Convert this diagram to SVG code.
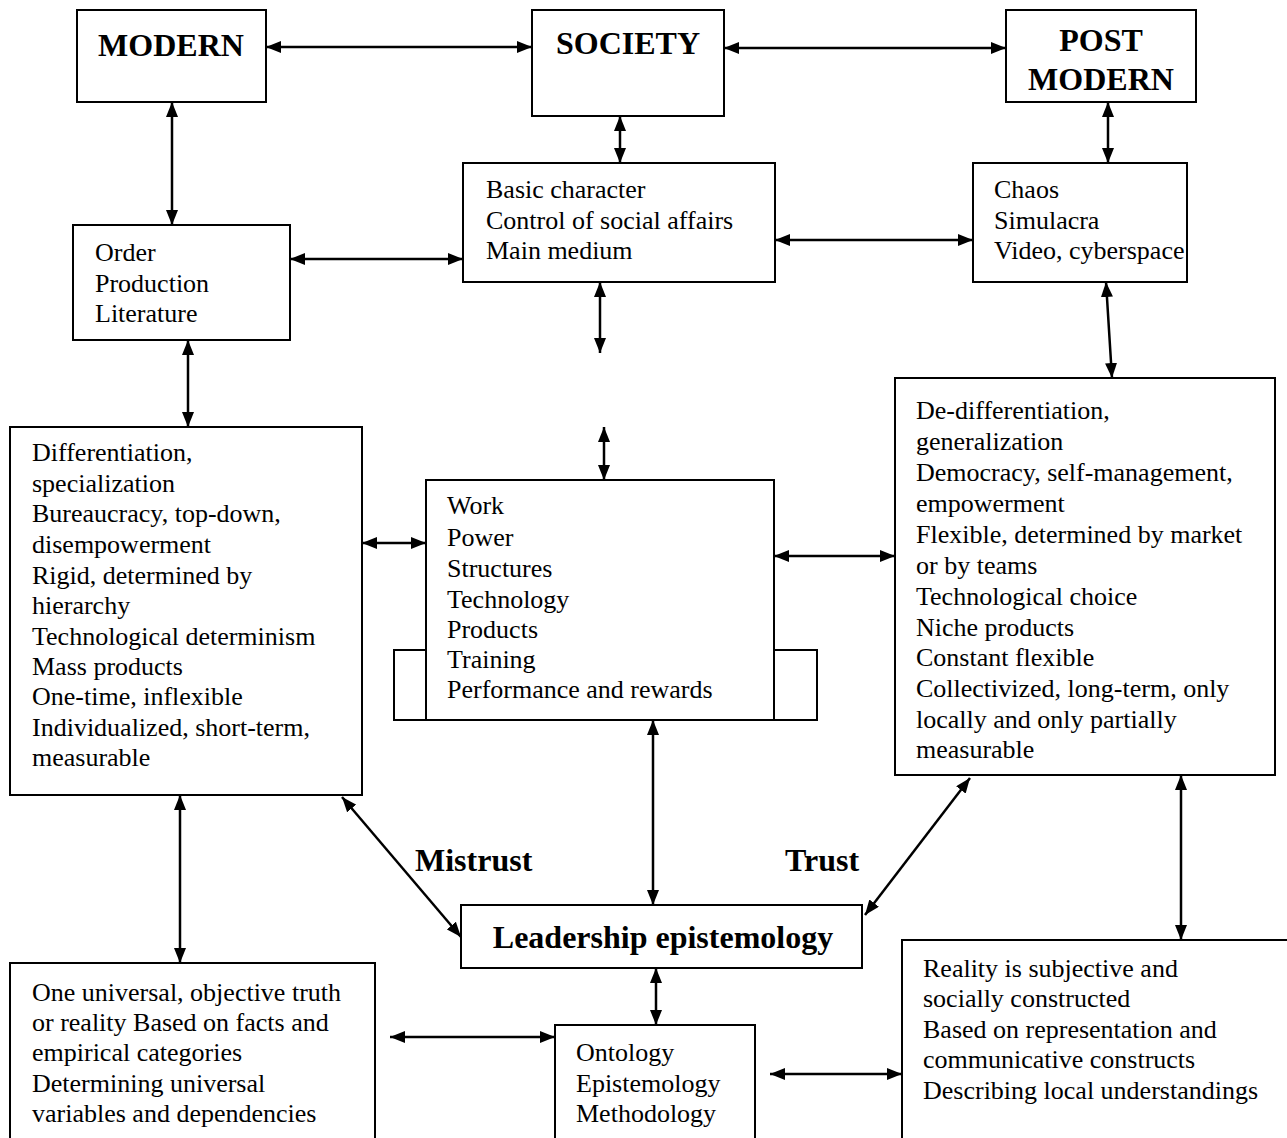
<svg xmlns="http://www.w3.org/2000/svg" width="1287" height="1138" viewBox="0 0 1287 1138">
<defs>
<marker id="ah" viewBox="0 0 15 12" refX="15" refY="6" markerWidth="15" markerHeight="12" markerUnits="userSpaceOnUse" orient="auto-start-reverse">
<path d="M0,0 L15,6 L0,12 z" fill="#000"/>
</marker>
<style>
.box{fill:#fff;stroke:#000;stroke-width:2}
.t{font-family:"Liberation Serif","Times New Roman",serif;font-size:26px;fill:#000}
.b{font-family:"Liberation Serif","Times New Roman",serif;font-size:32px;font-weight:bold;fill:#000}
.c line{stroke:#000;stroke-width:2.5;marker-start:url(#ah);marker-end:url(#ah)}
</style>
</defs>
<rect width="1287" height="1138" fill="#fff"/>
<g class="c" id="connectors">
<line x1="266" y1="47" x2="532" y2="47"/>
<line x1="724" y1="48" x2="1006" y2="48"/>
<line x1="620" y1="116" x2="620" y2="163"/>
<line x1="172" y1="102" x2="172" y2="225"/>
<line x1="1108" y1="102" x2="1108" y2="163"/>
<line x1="290" y1="259" x2="463" y2="259"/>
<line x1="775" y1="240" x2="973" y2="240"/>
<line x1="600" y1="282" x2="600" y2="353"/>
<line x1="604" y1="427" x2="604" y2="480"/>
<line x1="188" y1="340" x2="188" y2="427"/>
<line x1="1106" y1="282" x2="1112" y2="378"/>
<line x1="362" y1="543" x2="426" y2="543"/>
<line x1="774" y1="556" x2="895" y2="556"/>
<line x1="653" y1="720" x2="653" y2="905"/>
<line x1="342" y1="797" x2="461" y2="937"/>
<line x1="970" y1="778" x2="865" y2="915"/>
<line x1="180" y1="795" x2="180" y2="963"/>
<line x1="1181" y1="775" x2="1181" y2="940"/>
<line x1="656" y1="968" x2="656" y2="1025"/>
<line x1="390" y1="1037" x2="555" y2="1037"/>
<line x1="770" y1="1074" x2="902" y2="1074"/>
</g>
<g id="modern"><rect class="box" x="77" y="10" width="189" height="92"/><text class="b" x="171" y="56" text-anchor="middle">MODERN</text></g>
<g id="society"><rect class="box" x="532" y="10" width="192" height="106"/><text class="b" x="628" y="54" text-anchor="middle">SOCIETY</text></g>
<g id="postmodern"><rect class="box" x="1006" y="10" width="190" height="92"/><text class="b" x="1101" y="51" text-anchor="middle">POST</text><text class="b" x="1101" y="90" text-anchor="middle">MODERN</text></g>
<g id="basic"><rect class="box" x="463" y="163" width="312" height="119"/>
<text class="t" x="486" y="198">Basic character</text><text class="t" x="486" y="229">Control of social affairs</text><text class="t" x="486" y="259">Main medium</text></g>
<g id="chaos"><rect class="box" x="973" y="163" width="214" height="119"/>
<text class="t" x="994" y="198">Chaos</text><text class="t" x="994" y="229">Simulacra</text><text class="t" x="994" y="259">Video, cyberspace</text></g>
<g id="order"><rect class="box" x="73" y="225" width="217" height="115"/>
<text class="t" x="95" y="261">Order</text><text class="t" x="95" y="292">Production</text><text class="t" x="95" y="322">Literature</text></g>
<g id="left"><rect class="box" x="10" y="427" width="352" height="368"/>
<text class="t" x="32" y="461">Differentiation,</text>
<text class="t" x="32" y="492">specialization</text>
<text class="t" x="32" y="522">Bureaucracy, top-down,</text>
<text class="t" x="32" y="553">disempowerment</text>
<text class="t" x="32" y="584">Rigid, determined by</text>
<text class="t" x="32" y="614">hierarchy</text>
<text class="t" x="32" y="645">Technological determinism</text>
<text class="t" x="32" y="675">Mass products</text>
<text class="t" x="32" y="705">One-time, inflexible</text>
<text class="t" x="32" y="736">Individualized, short-term,</text>
<text class="t" x="32" y="766">measurable</text></g>
<g id="middle"><rect class="box" x="394" y="650" width="423" height="70"/><rect class="box" x="426" y="480" width="348" height="240"/>
<text class="t" x="447" y="514">Work</text>
<text class="t" x="447" y="546">Power</text>
<text class="t" x="447" y="577">Structures</text>
<text class="t" x="447" y="608">Technology</text>
<text class="t" x="447" y="638">Products</text>
<text class="t" x="447" y="668">Training</text>
<text class="t" x="447" y="698">Performance and rewards</text></g>
<g id="right"><rect class="box" x="895" y="378" width="380" height="397"/>
<text class="t" x="916" y="419">De-differentiation,</text>
<text class="t" x="916" y="450">generalization</text>
<text class="t" x="916" y="481">Democracy, self-management,</text>
<text class="t" x="916" y="512">empowerment</text>
<text class="t" x="916" y="543">Flexible, determined by market</text>
<text class="t" x="916" y="574">or by teams</text>
<text class="t" x="916" y="605">Technological choice</text>
<text class="t" x="916" y="636">Niche products</text>
<text class="t" x="916" y="666">Constant flexible</text>
<text class="t" x="916" y="697">Collectivized, long-term, only</text>
<text class="t" x="916" y="728">locally and only partially</text>
<text class="t" x="916" y="758">measurable</text></g>
<g id="labels"><text class="b" x="415" y="871">Mistrust</text><text class="b" x="785" y="871">Trust</text></g>
<g id="leadership"><rect class="box" x="461" y="905" width="401" height="63"/><text class="b" x="663" y="948" text-anchor="middle">Leadership epistemology</text></g>
<g id="bleft"><rect class="box" x="10" y="963" width="365" height="190"/>
<text class="t" x="32" y="1001">One universal, objective truth</text>
<text class="t" x="32" y="1031">or reality Based on facts and</text>
<text class="t" x="32" y="1061">empirical categories</text>
<text class="t" x="32" y="1092">Determining universal</text>
<text class="t" x="32" y="1122">variables and dependencies</text></g>
<g id="onto"><rect class="box" x="555" y="1025" width="200" height="130"/>
<text class="t" x="576" y="1061">Ontology</text>
<text class="t" x="576" y="1092">Epistemology</text>
<text class="t" x="576" y="1122">Methodology</text></g>
<g id="bright"><rect class="box" x="902" y="940" width="400" height="215"/>
<text class="t" x="923" y="977">Reality is subjective and</text>
<text class="t" x="923" y="1007">socially constructed</text>
<text class="t" x="923" y="1038">Based on representation and</text>
<text class="t" x="923" y="1068">communicative constructs</text>
<text class="t" x="923" y="1099">Describing local understandings</text></g>
</svg>
